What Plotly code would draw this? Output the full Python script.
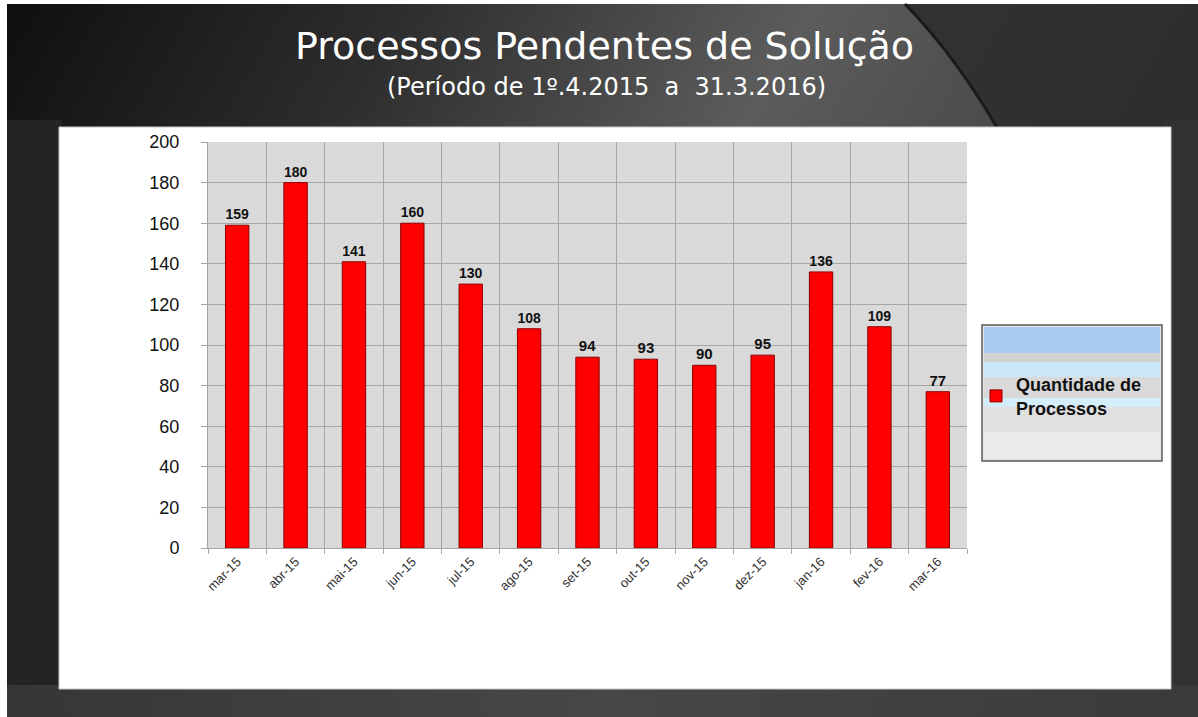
import base64
import plotly.graph_objects as go

categories = ["mar-15", "abr-15", "mai-15", "jun-15", "jul-15", "ago-15", "set-15",
              "out-15", "nov-15", "dez-15", "jan-16", "fev-16", "mar-16"]
values = [159, 180, 141, 160, 130, 108, 94, 93, 90, 95, 136, 109, 77]
series_name = "<b>Quantidade de<br>Processos</b>"
y_ticks = [0, 20, 40, 60, 80, 100, 120, 140, 160, 180, 200]

W, H = 1198, 717
L, R, T, B = 208, 967, 142, 548
FONT = "Liberation Sans, Arial"


def px(x):
    return (x - L) / (R - L)


def py(y):
    return (B - y) / (B - T)


def rect(x0, y0, x1, y1, fill, line=None, lw=0, layer="below"):
    return dict(type="rect", xref="paper", yref="paper",
                x0=px(x0), x1=px(x1), y0=py(y1), y1=py(y0),
                fillcolor=fill, line=dict(color=line or fill, width=lw), layer=layer)


# background slide gradient as an SVG image
svg = f"""<svg xmlns='http://www.w3.org/2000/svg' width='{W}' height='{H}' viewBox='0 0 {W} {H}'>
<defs>
<linearGradient id='g' x1='0' y1='0' x2='1' y2='0.35'>
<stop offset='0' stop-color='#0f0f0f'/>
<stop offset='0.3' stop-color='#2e2e2e'/>
<stop offset='0.6' stop-color='#5c5c5c'/>
<stop offset='0.8' stop-color='#4a4a4a'/>
<stop offset='1' stop-color='#333333'/>
</linearGradient>
<linearGradient id='b' x1='0' y1='0' x2='1' y2='0'>
<stop offset='0' stop-color='#363636'/>
<stop offset='0.5' stop-color='#474747'/>
<stop offset='1' stop-color='#3a3a3a'/>
</linearGradient>
</defs>
<rect x='7' y='4' width='{W}' height='{H}' fill='url(#g)'/>
<path d='M 905 4 Q 960 60 1010 150 L 1198 150 L 1198 4 Z' fill='#2c2c2c' opacity='0.85'/>
<path d='M 905 4 Q 960 60 1010 150' stroke='#1a1a1a' stroke-width='3' fill='none'/>
<rect x='7' y='120' width='55' height='580' fill='#242424'/>
<rect x='1165' y='120' width='40' height='580' fill='#323232'/>
<rect x='7' y='685' width='{W}' height='40' fill='url(#b)'/>
</svg>"""
svg_uri = "data:image/svg+xml;base64," + base64.b64encode(svg.encode()).decode()

shapes = [
    rect(59, 127, 1171, 689, "#ffffff", "#c8c8c8", 1),
    rect(L, T, R, B, "#d9d9d9"),
    # legend box
    rect(982, 325, 1162, 461, "#e4e4e4", "#5a5a5a", 1.5),
    rect(984, 327, 1160, 353, "#a9c9ee"),
    rect(984, 353, 1160, 362, "#d2d2d2"),
    rect(984, 362, 1160, 377, "#cbe6f7"),
    rect(984, 377, 1160, 398, "#d9d9d9"),
    rect(984, 398, 1160, 407, "#d3eef9"),
    rect(984, 407, 1160, 432, "#e0e0e0"),
    rect(984, 432, 1160, 459, "#ebebeb"),
]

fig = go.Figure()
fig.add_trace(go.Bar(
    x=categories, y=values, name=series_name,
    marker=dict(color="#ff0000", line=dict(color="#8b0000", width=1)),
    width=0.4,
    text=values, texttemplate="<b>%{y}</b>", textposition="outside",
    textfont=dict(family=FONT, size=15, color="#111111"),
    cliponaxis=False, showlegend=True,
))

fig.update_layout(
    width=W, height=H,
    margin=dict(l=L, r=W - R, t=T, b=H - B),
    paper_bgcolor="#ffffff",
    plot_bgcolor="rgba(0,0,0,0)",
    shapes=shapes,
    images=[dict(source=svg_uri, xref="paper", yref="paper",
                 x=px(0), y=py(0), sizex=W / (R - L), sizey=H / (B - T),
                 xanchor="left", yanchor="top", sizing="stretch", layer="below")],
    font=dict(family=FONT, color="#111111"),
    showlegend=True,
    legend=dict(x=px(976), y=py(366), xanchor="left", yanchor="top",
                bgcolor="rgba(0,0,0,0)", borderwidth=0,
                font=dict(family=FONT, size=18, color="#111111"),
                itemwidth=30, tracegroupgap=0),
    annotations=[
        dict(text="Processos Pendentes de Solução", xref="paper", yref="paper",
             x=px(604), y=py(46), xanchor="center", yanchor="middle", showarrow=False,
             font=dict(family="DejaVu Sans", size=38, color="#ffffff")),
        dict(text="(Período de 1º.4.2015  a  31.3.2016)", xref="paper", yref="paper",
             x=px(606), y=py(87), xanchor="center", yanchor="middle", showarrow=False,
             font=dict(family="DejaVu Sans", size=24, color="#ffffff")),
    ],
)

fig.update_xaxes(
    type="category", tickson="boundaries", showgrid=True, gridcolor="#a6a6a6", gridwidth=1,
    ticks="outside", ticklen=5, tickcolor="#a6a6a6", tickangle=-45,
    tickfont=dict(family=FONT, size=13, color="#333333"),
    showline=True, linecolor="#a6a6a6", linewidth=1, mirror=False,
)
fig.update_yaxes(
    range=[0, 200], tickvals=y_ticks, showgrid=True, gridcolor="#a6a6a6", gridwidth=1,
    ticks="outside", ticklen=6, tickcolor="#a6a6a6", ticklabelstandoff=18,
    tickfont=dict(family=FONT, size=18, color="#111111"),
    showline=True, linecolor="#a6a6a6", zeroline=False,
)

fig.write_html("out.html", config={"displayModeBar": False},
               post_script="document.body.style.margin='0';")
